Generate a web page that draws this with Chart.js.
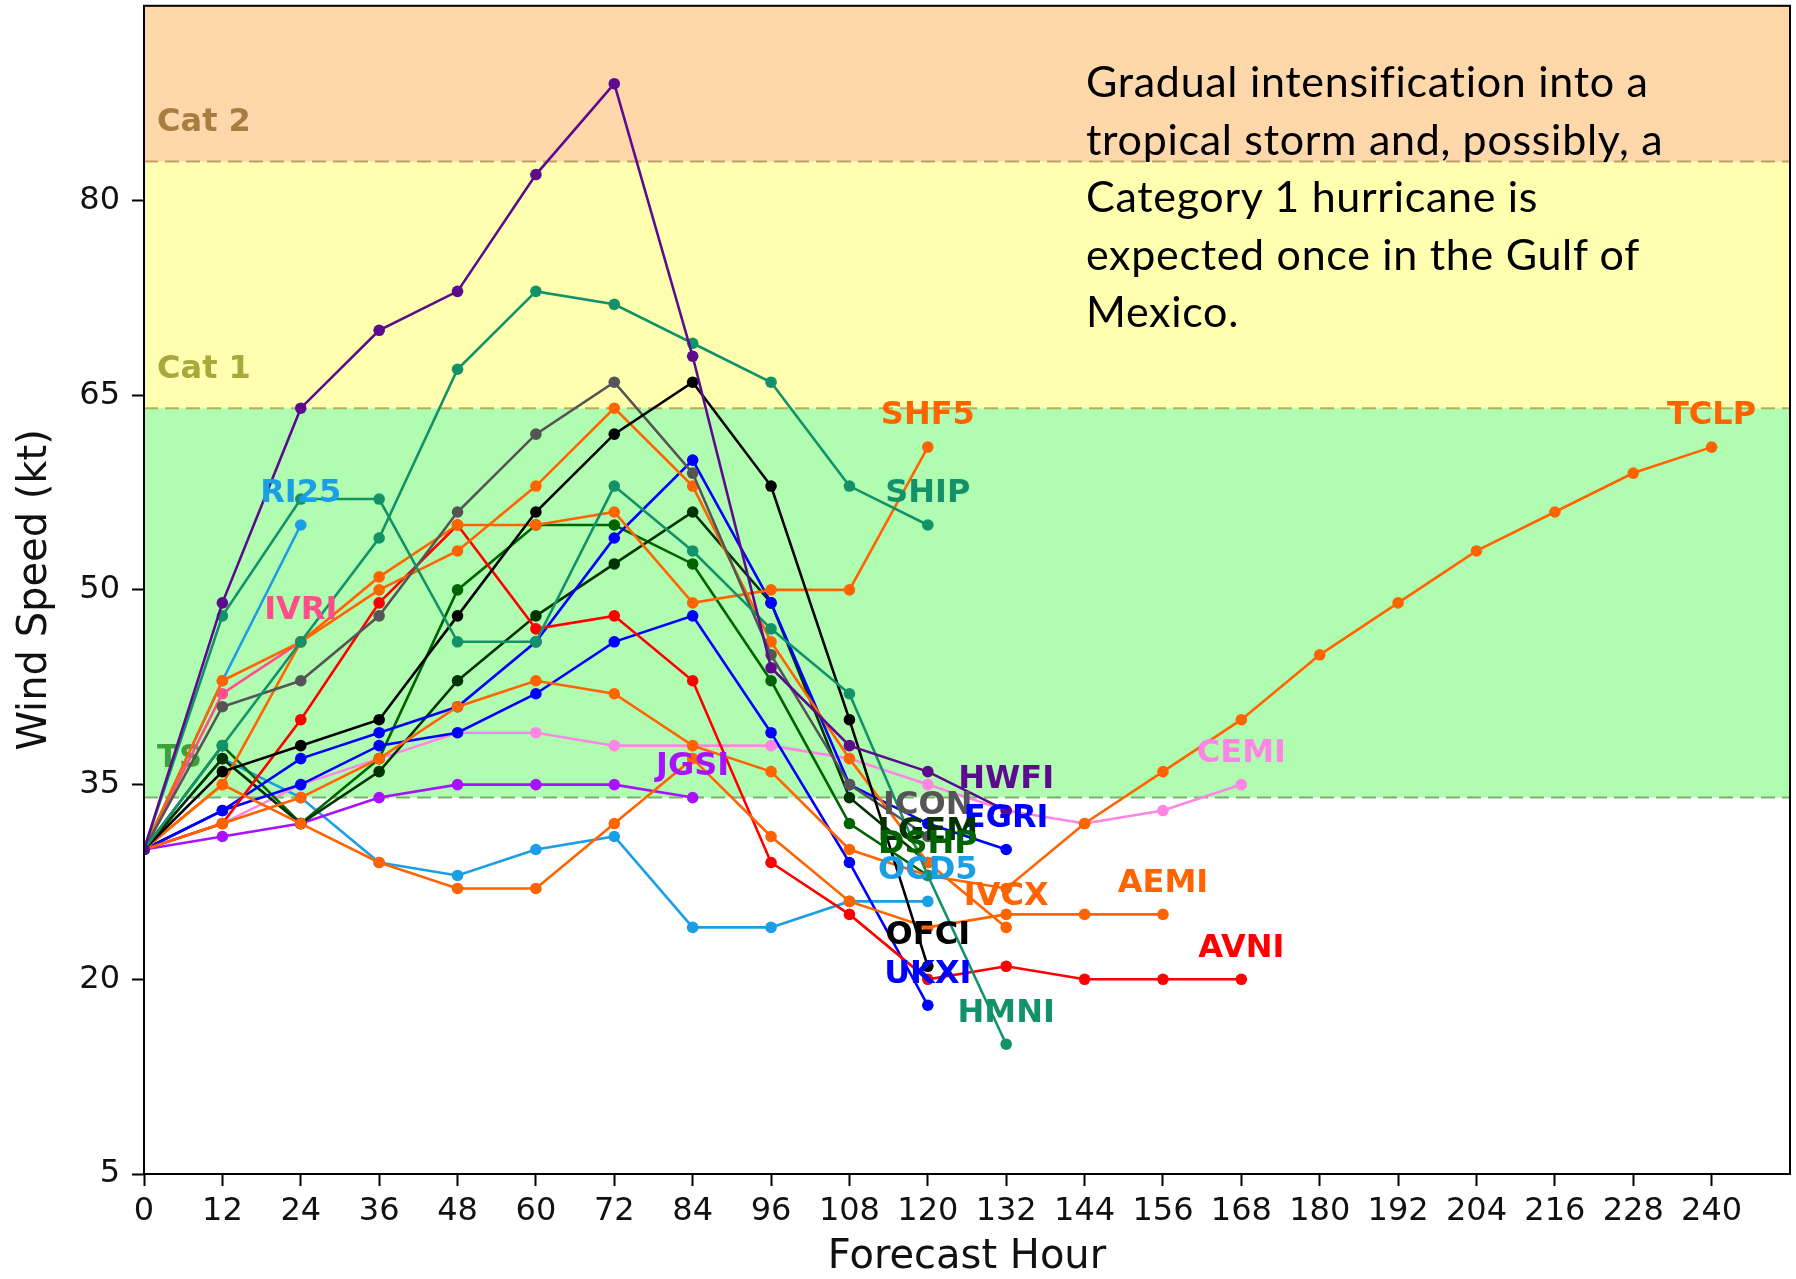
<!DOCTYPE html>
<html>
<head>
<meta charset="utf-8">
<script src="https://cdn.jsdelivr.net/npm/chart.js@4.4.1/dist/chart.umd.min.js"></script>
<style>
  body { margin: 0; background: #fff; }
  #wrap { position: relative; width: 1796px; height: 1279px; }
  #note {
    position: absolute; left: 1086px; top: 52px;
    font-family: Lato, "Open Sans", sans-serif; font-size: 43px; line-height: 57.5px;
    letter-spacing: 0.7px; color: #000; white-space: nowrap;
  }
</style>
</head>
<body>
<div id="wrap">
  <canvas id="chart" width="1796" height="1279"></canvas>
  <div id="note">Gradual intensification into a<br>tropical storm and, possibly, a<br>Category 1 hurricane is<br>expected once in the Gulf of<br>Mexico.</div>
</div>
<script>
// forecast hours (x axis)
const hours = [0, 12, 24, 36, 48, 60, 72, 84, 96, 108, 120, 132, 144, 156, 168, 180, 192, 204, 216, 228, 240];
const xTicks = [0, 12, 24, 36, 48, 60, 72, 84, 96, 108, 120, 132, 144, 156, 168, 180, 192, 204, 216, 228, 240];
const yTicks = [5, 20, 35, 50, 65, 80];

// model names, wind speed (kt) per forecast hour, line colour
const models = ['HWFI', 'SHIP', 'HMNI', 'OFCI', 'ICON', 'SHF5', 'IVCX', 'AEMI', 'TCLP', 'AVNI',
                'EGRI', 'UKXI', 'LGEM', 'DSHP', 'CEMI', 'JGSI', 'OCD5', 'RI25', 'IVRI'];

const HWFI = [30, 49, 64, 70, 73, 82, 89, 68, 44, 38, 36, 33];
const SHIP = [30, 38, 46, 54, 67, 73, 72, 69, 66, 58, 55];
const HMNI = [30, 48, 57, 57, 46, 46, 58, 53, 47, 42, 28, 15];
const OFCI = [30, 36, 38, 40, 48, 56, 62, 66, 58, 40, 21];
const ICON = [30, 41, 43, 48, 56, 62, 66, 59, 45, 35, 31];
const SHF5 = [30, 43, 46, 51, 55, 55, 56, 49, 50, 50, 61];
const IVCX = [30, 35, 46, 50, 53, 58, 64, 58, 46, 37, 29, 24];
const AEMI = [30, 35, 32, 29, 27, 27, 32, 37, 31, 26, 24, 25, 25, 25];
const TCLP = [30, 32, 34, 37, 41, 43, 42, 38, 36, 30, 28, 27, 32, 36, 40, 45, 49, 53, 56, 59, 61];
const AVNI = [30, 32, 40, 49, 55, 47, 48, 43, 29, 25, 20, 21, 20, 20, 20];
const EGRI = [30, 33, 37, 39, 41, 46, 54, 60, 49, 35, 32, 30];
const UKXI = [30, 33, 35, 38, 39, 42, 46, 48, 39, 29, 18];
const LGEM = [30, 37, 32, 36, 43, 48, 52, 56, 49, 34, 29];
const DSHP = [30, 38, 32, 37, 50, 55, 55, 52, 43, 32, 28];
const CEMI = [30, 32, 35, 37, 39, 39, 38, 38, 38, 37, 35, 33, 32, 33, 35];
const JGSI = [30, 31, 32, 34, 35, 35, 35, 34];
const OCD5 = [30, 37, 34, 29, 28, 30, 31, 24, 24, 26, 26];
const RI25 = [30, 43, 55];
const IVRI = [30, 42, 46];

const values = {HWFI, SHIP, HMNI, OFCI, ICON, SHF5, IVCX, AEMI, TCLP, AVNI, EGRI, UKXI, LGEM, DSHP, CEMI, JGSI, OCD5, RI25, IVRI};

const colors = {
    HWFI: '#5c0a8e', SHIP: '#13926a', HMNI: '#13926a', OFCI: '#000000', ICON: '#555555',
    SHF5: '#ff6400', IVCX: '#ff6400', AEMI: '#ff6400', TCLP: '#ff6400', AVNI: '#ff0000',
    EGRI: '#0000ff', UKXI: '#0000ff', LGEM: '#003300', DSHP: '#006400', CEMI: '#ff85e6',
    JGSI: '#aa11ff', OCD5: '#1a9ee6', RI25: '#1a9ee6', IVRI: '#ff4f8b'
};

// intensity categories: threshold (kt), label
const catNames = ['TS', 'Cat 1', 'Cat 2'];
const catLimits = [34, 64, 83];
const catFill = ['#b0fcb0', '#ffffb0', '#fed8ab'];
const catLine = ['rgba(110,170,100,0.9)', 'rgba(180,165,80,0.9)', 'rgba(185,150,90,0.9)'];
const catText = ['#3ca03c', '#a8a83c', '#a87d42'];

const FONT = 'DejaVu Sans';

// 背景色带 + 虚线 + 分类标签
const bandPlugin = {
    id: 'bands',
    beforeDatasetsDraw(chart) {
        const {ctx, chartArea: a, scales: {x, y}} = chart;
        ctx.save();
        for (let i = 0; i < catLimits.length; i++) {
            const top = i + 1 < catLimits.length ? y.getPixelForValue(catLimits[i + 1]) : a.top;
            const bot = y.getPixelForValue(catLimits[i]);
            ctx.fillStyle = catFill[i];
            ctx.fillRect(a.left, top, a.right - a.left, bot - top);
        }
        ctx.lineWidth = 2;
        ctx.setLineDash([14, 7]);
        for (let i = 0; i < catLimits.length; i++) {
            const py = y.getPixelForValue(catLimits[i]);
            ctx.strokeStyle = catLine[i];
            ctx.beginPath();
            ctx.moveTo(a.left, py);
            ctx.lineTo(a.right, py);
            ctx.stroke();
        }
        ctx.setLineDash([]);
        ctx.font = 'bold 32px "' + FONT + '"';
        ctx.textAlign = 'left';
        ctx.textBaseline = 'middle';
        for (let i = 0; i < catLimits.length; i++) {
            ctx.fillStyle = catText[i];
            ctx.fillText(catNames[i], x.getPixelForValue(2), y.getPixelForValue(catLimits[i] + 3));
        }
        ctx.restore();
    }
};

// 每条线末端的模式名
const endLabelPlugin = {
    id: 'endLabels',
    afterDatasetsDraw(chart) {
        const ctx = chart.ctx;
        ctx.save();
        ctx.font = 'bold 32px "' + FONT + '"';
        ctx.textAlign = 'center';
        ctx.textBaseline = 'middle';
        chart.data.datasets.forEach((ds, i) => {
            const pts = chart.getDatasetMeta(i).data;
            const last = pts[pts.length - 1];
            ctx.fillStyle = ds.borderColor;
            ctx.fillText(ds.label, last.x, last.y - 31);
        });
        ctx.restore();
    }
};

// 坐标框
const framePlugin = {
    id: 'frame',
    afterDraw(chart) {
        const {ctx, chartArea: a} = chart;
        ctx.save();
        ctx.strokeStyle = '#000';
        ctx.lineWidth = 2;
        ctx.strokeRect(a.left, a.top, a.right - a.left, a.bottom - a.top);
        ctx.restore();
    }
};

const datasets = models.map(name => ({
    label: name,
    data: values[name].map((v, i) => ({x: hours[i], y: v})),
    borderColor: colors[name],
    backgroundColor: colors[name],
    borderWidth: 2.6,
    pointRadius: 5.8,
    pointBorderWidth: 0,
    tension: 0,
    fill: false
}));

Chart.defaults.font.family = FONT;
Chart.defaults.color = '#000';

new Chart(document.getElementById('chart').getContext('2d'), {
    type: 'line',
    data: {datasets},
    options: {
        responsive: false,
        animation: false,
        events: [],
        layout: {padding: {left: 0, right: 6, top: 3, bottom: 0}},
        plugins: {legend: {display: false}, tooltip: {enabled: false}},
        scales: {
            x: {
                type: 'linear', min: 0, max: 252,
                afterBuildTicks: s => { s.ticks = xTicks.map(v => ({value: v})); },
                afterFit: s => { s.height = 105; s.paddingLeft = 0; s.paddingRight = 0; },
                border: {display: false},
                grid: {drawOnChartArea: false, drawTicks: true, tickLength: 12, tickColor: '#000', tickWidth: 2},
                ticks: {font: {size: 32}, padding: 6, maxRotation: 0, autoSkip: false, color: '#111'},
                title: {display: true, text: 'Forecast Hour', font: {size: 40, lineHeight: 1}, padding: {top: 0, bottom: 1}, color: '#111'}
            },
            y: {
                type: 'linear', min: 5, max: 95,
                afterBuildTicks: s => { s.ticks = yTicks.map(v => ({value: v})); },
                afterFit: s => { s.width = 144; s.paddingTop = 0; s.paddingBottom = 0; },
                border: {display: false},
                grid: {drawOnChartArea: false, drawTicks: true, tickLength: 12, tickColor: '#000', tickWidth: 2},
                ticks: {font: {size: 32}, padding: 12, color: '#111'},
                title: {display: true, text: 'Wind Speed (kt)', font: {size: 40, lineHeight: 1}, padding: {top: 16, bottom: 0}, color: '#111'}
            }
        }
    },
    plugins: [bandPlugin, endLabelPlugin, framePlugin]
});
</script>
</body>
</html>
